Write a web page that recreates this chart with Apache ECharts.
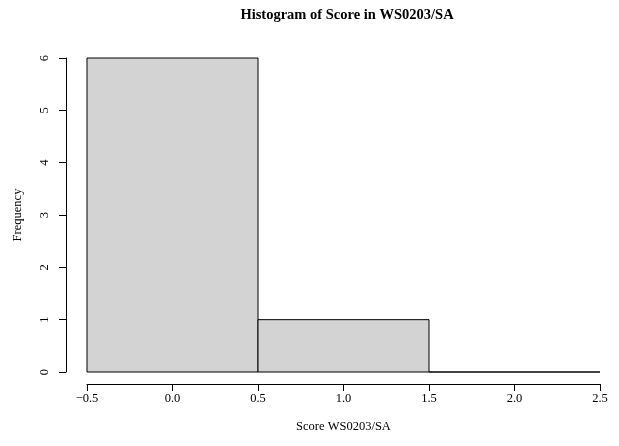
<!DOCTYPE html>
<html><head><meta charset="utf-8">
<script src="https://cdn.jsdelivr.net/npm/echarts@6/dist/echarts.min.js"></script>
<style>html,body{margin:0;padding:0;background:#fff}#c{width:619px;height:446px}</style>
</head><body><div id="c"></div>
<script>
var binStart = [-0.5, 0.5, 1.5];
var binEnd = [0.5, 1.5, 2.5];
var counts = [6, 1, 0];
var titleText = 'Histogram of Score in WS0203/SA';
var xName = 'Score WS0203/SA';
var yName = 'Frequency';

var data = binStart.map(function (s, i) { return [s, binEnd[i], counts[i]]; });
var font = 'Liberation Serif';
var chart = echarts.init(document.getElementById('c'), null, {renderer: 'canvas'});
chart.setOption({
  animation: false,
  backgroundColor: '#fff',
  title: {
    text: titleText, left: 342, top: 3, textAlign: 'center',
    textStyle: {fontFamily: font, fontSize: 14.5, fontWeight: 'bold', color: '#000'}
  },
  grid: {left: 87, right: 19, top: 58, bottom: 74},
  xAxis: {
    type: 'value', min: -0.5, max: 2.5, interval: 0.5, offset: 12,
    name: xName, nameLocation: 'middle', nameGap: 36,
    nameTextStyle: {fontFamily: font, fontSize: 12.5, color: '#000'},
    axisLine: {show: true, onZero: false, lineStyle: {color: '#000', width: 1}},
    axisTick: {show: true, length: 7, lineStyle: {color: '#000'}},
    axisLabel: {fontFamily: font, fontSize: 12.5, color: '#000', margin: 8,
      formatter: function (v) { return (v < 0 ? '\u2212' : '') + Math.abs(v).toFixed(1); }},
    splitLine: {show: false}
  },
  yAxis: {
    type: 'value', min: 0, max: 6, interval: 1, offset: 21,
    name: yName, nameLocation: 'middle', nameGap: 42,
    nameTextStyle: {fontFamily: font, fontSize: 12.5, color: '#000'},
    axisLine: {show: true, onZero: false, lineStyle: {color: '#000', width: 1}},
    axisTick: {show: true, length: 7, lineStyle: {color: '#000'}},
    axisLabel: {fontFamily: font, fontSize: 12.5, color: '#000', margin: 15, rotate: 90},
    splitLine: {show: false}
  },
  series: [{
    type: 'custom',
    data: data,
    encode: {x: [0, 1], y: 2},
    renderItem: function (params, api) {
      var p0 = api.coord([api.value(0), api.value(2)]);
      var p1 = api.coord([api.value(1), 0]);
      return {
        type: 'rect',
        shape: {x: p0[0], y: p0[1], width: p1[0] - p0[0], height: p1[1] - p0[1]},
        style: {fill: '#d3d3d3', stroke: '#000', lineWidth: 1}
      };
    }
  }]
});
</script></body></html>
